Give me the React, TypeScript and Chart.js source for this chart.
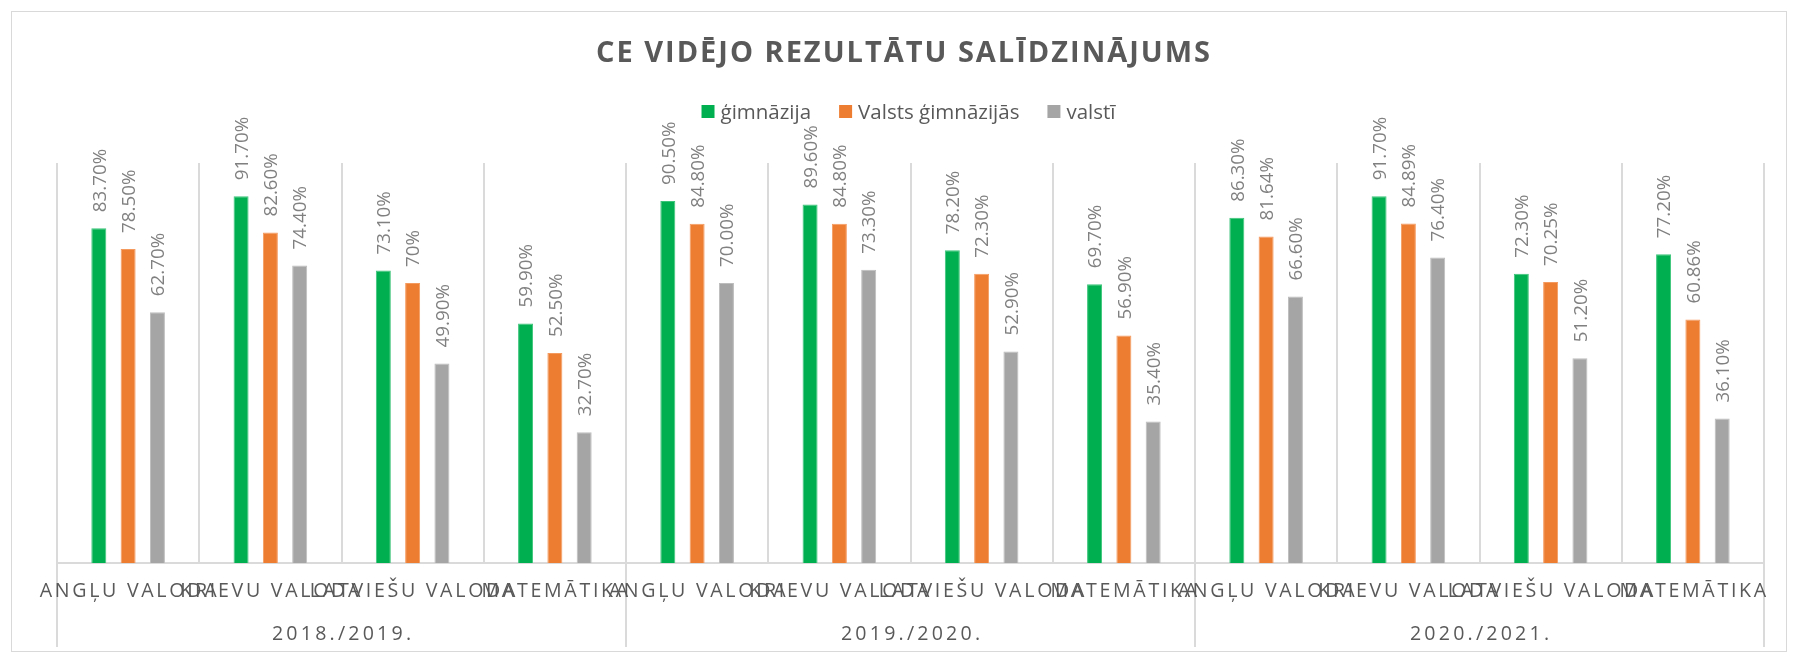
import { useEffect, useRef } from "react";
import { Chart, registerables } from "chart.js";

Chart.register(...registerables);

// ---- data ----
const years = ["2018./2019.", "2019./2020.", "2020./2021."];
const subjects = ["ANGĻU VALODA", "KRIEVU VALODA", "LATVIEŠU VALODA", "MATEMĀTIKA"];
const seriesNames = ["ģimnāzija", "Valsts ģimnāzijās", "valstī"];
const seriesColors = ["#00B050", "#ED7D31", "#A5A5A5"];
const seriesBorders = ["#3cc47a", "#f59a5f", "#bdbdbd"];

const gimnazija = [0.837, 0.917, 0.731, 0.599, 0.905, 0.896, 0.782, 0.697, 0.863, 0.917, 0.723, 0.772];
const valstsGimnazijas = [0.785, 0.826, 0.7, 0.525, 0.848, 0.848, 0.723, 0.569, 0.8164, 0.8489, 0.7025, 0.6086];
const valsti = [0.627, 0.744, 0.499, 0.327, 0.7, 0.733, 0.529, 0.354, 0.666, 0.764, 0.512, 0.361];

const gimnazijaLabels = ["83.70%", "91.70%", "73.10%", "59.90%", "90.50%", "89.60%", "78.20%", "69.70%", "86.30%", "91.70%", "72.30%", "77.20%"];
const valstsGimnazijasLabels = ["78.50%", "82.60%", "70%", "52.50%", "84.80%", "84.80%", "72.30%", "56.90%", "81.64%", "84.89%", "70.25%", "60.86%"];
const valstiLabels = ["62.70%", "74.40%", "49.90%", "32.70%", "70.00%", "73.30%", "52.90%", "35.40%", "66.60%", "76.40%", "51.20%", "36.10%"];

const titleText = "CE VIDĒJO REZULTĀTU SALĪDZINĀJUMS";

const FONT = '"Open Sans", "Noto Sans", sans-serif';

const categories: string[] = [];
years.forEach(() => subjects.forEach((s) => categories.push(s)));

const seriesValues = [gimnazija, valstsGimnazijas, valsti];
const seriesLabels = [gimnazijaLabels, valstsGimnazijasLabels, valstiLabels];

const decorPlugin = {
  id: "decor",
  afterDatasetsDraw(chart: any) {
    const ctx = chart.ctx as CanvasRenderingContext2D;
    const fs = 18.8;
    chart.data.datasets.forEach((ds: any, di: number) => {
      const meta = chart.getDatasetMeta(di);
      meta.data.forEach((bar: any, i: number) => {
        const { x, y } = bar.getProps(["x", "y"], true);
        ctx.save();
        ctx.translate(x, y - 16);
        ctx.rotate(-Math.PI / 2);
        ctx.font = `${fs}px ${FONT}`;
        ctx.fillStyle = "#808080";
        ctx.textAlign = "left";
        ctx.textBaseline = "alphabetic";
        ctx.fillText(seriesLabels[di][i], 0, fs * 0.357);
        ctx.restore();
      });
    });
  },
  afterDraw(chart: any) {
    const ctx = chart.ctx as CanvasRenderingContext2D;
    const xs = chart.scales.x;
    const area = chart.chartArea;
    const cw = xs.getPixelForValue(1) - xs.getPixelForValue(0);

    // outer border
    ctx.save();
    ctx.strokeStyle = "#d9d9d9";
    ctx.lineWidth = 1;
    ctx.strokeRect(11.5, 11.5, 1775, 640);
    ctx.restore();

    // group separator lines below axis
    ctx.save();
    ctx.strokeStyle = "#dadada";
    ctx.lineWidth = 2;
    for (let g = 0; g <= years.length; g++) {
      const k = g * subjects.length;
      const px = Math.round(xs.getPixelForValue(Math.min(k, categories.length - 1)) + (k >= categories.length ? cw / 2 : -cw / 2));
      ctx.beginPath();
      ctx.moveTo(px, area.bottom);
      ctx.lineTo(px, 647);
      ctx.stroke();
    }
    ctx.restore();

    // category labels
    ctx.save();
    ctx.fillStyle = "#595959";
    ctx.font = `19.6px ${FONT}`;
    ctx.textAlign = "center";
    ctx.textBaseline = "alphabetic";
    const ls1 = 2.7;
    (ctx as any).letterSpacing = `${ls1}px`;
    categories.forEach((c, i) => {
      ctx.fillText(c, xs.getPixelForValue(i) + ls1 / 2, 597);
    });
    const ls2 = 3.2;
    (ctx as any).letterSpacing = `${ls2}px`;
    years.forEach((yr, g) => {
      const a = xs.getPixelForValue(g * subjects.length);
      const b = xs.getPixelForValue(g * subjects.length + subjects.length - 1);
      ctx.fillText(yr, (a + b) / 2 + ls2 / 2, 639.5);
    });
    ctx.restore();

    // title
    ctx.save();
    ctx.fillStyle = "#595959";
    ctx.font = `bold 29px ${FONT}`;
    ctx.textBaseline = "alphabetic";
    ctx.textAlign = "left";
    (ctx as any).letterSpacing = "0px";
    const w0 = ctx.measureText(titleText).width;
    const target = 614;
    const ls = Math.max(0, (target - w0) / (titleText.length - 1));
    (ctx as any).letterSpacing = `${ls}px`;
    ctx.fillText(titleText, 903 - target / 2, 62);
    ctx.restore();

    // legend
    ctx.save();
    ctx.font = `20.5px ${FONT}`;
    ctx.textBaseline = "alphabetic";
    ctx.textAlign = "left";
    (ctx as any).letterSpacing = "0px";
    const widths = seriesNames.map((n) => ctx.measureText(n).width);
    const box = 13, gapText = 6, gapItem = 28;
    const total = widths.reduce((s, w) => s + box + gapText + w, 0) + gapItem * (seriesNames.length - 1);
    let lx = (area.left + area.right) / 2 - 2 - total / 2;
    seriesNames.forEach((n, i) => {
      ctx.fillStyle = seriesColors[i];
      ctx.fillRect(lx, 105, box, box);
      ctx.fillStyle = "#595959";
      ctx.fillText(n, lx + box + gapText, 119);
      lx += box + gapText + widths[i] + gapItem;
    });
    ctx.restore();
  },
};

export default function App() {
  const ref = useRef<HTMLCanvasElement>(null);
  useEffect(() => {
    document.body.style.margin = "0";
    const chart = new Chart(ref.current as HTMLCanvasElement, {
      type: "bar",
      data: {
        labels: categories,
        datasets: seriesNames.map((name, i) => ({
          label: name,
          data: seriesValues[i],
          backgroundColor: seriesColors[i],
          borderColor: seriesBorders[i],
          borderWidth: 1,
          categoryPercentage: 0.618,
          barPercentage: 0.512,
        })),
      },
      options: {
        responsive: false,
        animation: false,
        devicePixelRatio: 1,
        layout: { padding: { left: 57, right: 30, top: 163, bottom: 0 } },
        scales: {
          x: {
            grid: { color: "#dadada", lineWidth: 2, drawTicks: false, offset: true },
            border: { display: true, color: "#dadada", width: 2 },
            ticks: { display: false },
            afterFit: (s: any) => {
              s.height = 92;
            },
          },
          y: { display: false, min: 0, max: 1 },
        },
        plugins: {
          legend: { display: false },
          title: { display: false },
          tooltip: { enabled: false },
        },
      },
      plugins: [decorPlugin],
    });
    return () => chart.destroy();
  }, []);
  return (
    <canvas
      ref={ref}
      width={1794}
      height={655}
      style={{ display: "block", width: "1794px", height: "655px" }}
    />
  );
}
